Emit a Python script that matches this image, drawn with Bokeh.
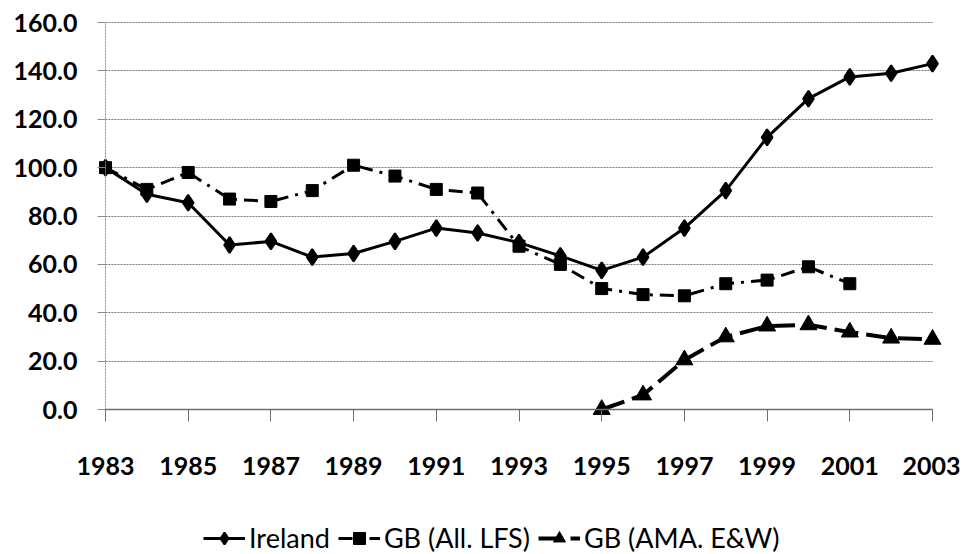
import numpy as np
from bokeh.plotting import figure
from bokeh.models import (Range1d, FixedTicker, NumeralTickFormatter, Legend,
                          LegendItem, Grid)
from bokeh.embed import file_html
from bokeh.resources import INLINE

# ---- data ----
years = list(range(1983, 2004))
ireland = [100.0, 89.0, 85.5, 68.0, 69.5, 63.0, 64.5, 69.5, 75.0, 73.0, 69.0,
           63.5, 57.5, 63.0, 75.0, 90.5, 112.5, 128.5, 137.5, 139.0, 143.0]

gb_lfs_years = list(range(1983, 2002))
gb_lfs = [100.0, 91.0, 98.0, 87.0, 86.0, 90.5, 101.0, 96.5, 91.0, 89.5, 67.5,
          60.0, 50.0, 47.5, 47.0, 52.0, 53.5, 59.0, 52.0]

gb_ama_years = list(range(1995, 2004))
gb_ama = [0.0, 6.0, 20.5, 30.0, 34.5, 35.0, 32.0, 29.5, 29.0]

series_labels = ["Ireland", "GB (All. LFS)", "GB (AMA. E&W)"]
x_ticks = list(range(1983, 2004, 2))
x_tick_labels = [str(y) for y in x_ticks]
y_ticks = [0, 20, 40, 60, 80, 100, 120, 140, 160]

x_lo, x_hi = x_ticks[0], x_ticks[-1]
y_lo, y_hi = y_ticks[0], y_ticks[-1]

# ---- figure: the frame fills the whole canvas; axes sit at fixed data locations ----
p = figure(width=960, height=554,
           x_range=Range1d(1980.4607, 2003.6771),
           y_range=Range1d(-59.948, 169.0956),
           output_backend="svg", toolbar_location=None,
           min_border_left=0, min_border_right=0,
           min_border_top=0, min_border_bottom=0)
p.outline_line_color = None
p.background_fill_color = "white"
p.border_fill_color = "white"

# x axis drawn along y = 0
p.xaxis.fixed_location = y_lo
p.xaxis.bounds = (x_lo, x_hi)
p.xaxis.ticker = FixedTicker(ticks=x_ticks)
p.xaxis.major_label_overrides = {t: l for t, l in zip(x_ticks, x_tick_labels)}
p.xaxis.minor_tick_line_color = None
p.xaxis.major_tick_in = 0
p.xaxis.major_tick_out = 12
p.xaxis.axis_line_color = "#6e6e6e"
p.xaxis.axis_line_width = 1.5
p.xaxis.major_tick_line_color = "#6e6e6e"
p.xaxis.major_tick_line_width = 1
p.xaxis.major_label_standoff = 35

# y axis drawn along the first year
p.yaxis.fixed_location = x_lo
p.yaxis.bounds = (y_lo, y_hi)
p.yaxis.ticker = FixedTicker(ticks=y_ticks)
p.yaxis.formatter = NumeralTickFormatter(format="0.0")
p.yaxis.minor_tick_line_color = None
p.yaxis.major_tick_in = 0
p.yaxis.major_tick_out = 8
p.yaxis.axis_line_color = "#8a8a8a"
p.yaxis.axis_line_dash = "2 1"
p.yaxis.major_tick_line_color = "#8a8a8a"
p.yaxis.major_label_standoff = 20

for ax in (p.xaxis, p.yaxis):
    ax.major_label_text_font = "Lato"
    ax.major_label_text_font_style = "bold"
    ax.major_label_text_font_size = "25px"
    ax.major_label_text_color = "black"

p.xgrid.visible = False
p.ygrid.grid_line_color = "#7a7a7a"
p.ygrid.grid_line_dash = "2 1"
p.ygrid.grid_line_width = 1
if "cross_bounds" in Grid.properties():
    p.ygrid.cross_bounds = (x_lo, x_hi)

# ---- series ----
r1 = p.line(years, ireland, line_color="black", line_width=3)
s1 = p.scatter(years, ireland, marker="diamond", size=16, line_width=2,
               fill_color="black", line_color="black")

r2 = p.line(gb_lfs_years, gb_lfs, line_color="black", line_width=3,
            line_dash="14 7 3 7")
s2 = p.scatter(gb_lfs_years, gb_lfs, marker="square", size=12,
               fill_color="black", line_color="black")

r3 = p.line(gb_ama_years, gb_ama, line_color="black", line_width=4,
            line_dash="24 8")
s3 = p.scatter(gb_ama_years, gb_ama, marker="triangle", size=17,
               fill_color="black", line_color="black")

legend = Legend(items=[
    LegendItem(label=series_labels[0], renderers=[r1, s1]),
    LegendItem(label=series_labels[1], renderers=[r2, s2]),
    LegendItem(label=series_labels[2], renderers=[r3, s3]),
], orientation="horizontal", location=(203, 0))
legend.label_text_font = "Lato"
legend.label_text_font_size = "27px"
legend.label_text_color = "black"
legend.glyph_width = 42
legend.glyph_height = 30
legend.label_standoff = 4
legend.spacing = 8
legend.padding = 0
legend.margin = 0
legend.border_line_color = None
legend.background_fill_alpha = 0
p.add_layout(legend)

open("out.html", "w").write(file_html(p, INLINE))
